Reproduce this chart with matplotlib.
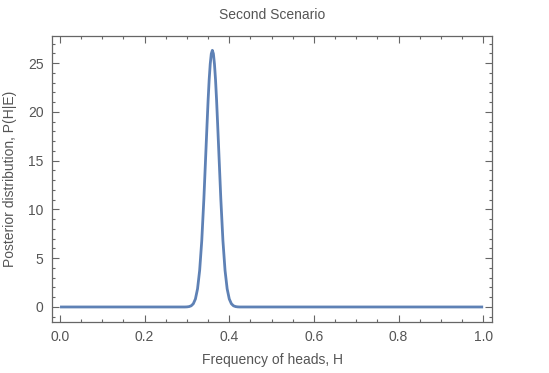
import matplotlib
matplotlib.use('Agg')
import matplotlib.pyplot as plt
from matplotlib.ticker import MultipleLocator

# posterior curve (peak ~26.3 at H ~0.36)
h_vals = [0.0, 0.295, 0.30, 0.305, 0.31, 0.315, 0.32, 0.325, 0.33, 0.335, 0.34,
          0.345, 0.3475, 0.35, 0.3525, 0.355, 0.3575, 0.36, 0.3625, 0.365, 0.3675,
          0.37, 0.3725, 0.375, 0.38, 0.385, 0.39,
          0.395, 0.40, 0.405, 0.41, 0.415, 0.42, 0.425, 1.0]
p_vals = [0.0, 0.0, 0.01, 0.04, 0.12, 0.33, 0.82, 1.86, 3.75, 6.8, 11.1,
          16.2, 18.75, 21.2, 23.3, 24.9, 25.95, 26.3, 25.95, 24.9, 23.3,
          21.2, 18.75, 16.2, 11.1, 6.8, 3.75,
          1.86, 0.82, 0.33, 0.12, 0.04, 0.01, 0.0, 0.0]

x_ticks = [0.0, 0.2, 0.4, 0.6, 0.8, 1.0]
y_ticks = [0, 5, 10, 15, 20, 25]

plt.rcParams['font.family'] = ['Liberation Sans', 'DejaVu Sans']
txt = '#555555'
frame = '#666666'

fig = plt.figure(figsize=(5.49, 3.73), dpi=100)
ax = fig.add_axes([0.0947, 0.1367, 0.8015, 0.7668])

ax.plot(h_vals, p_vals, color='#5E81B5', lw=2.0, solid_capstyle='butt',
        solid_joinstyle='round')

ax.set_xlim(-0.019, 1.021)
ax.set_ylim(-1.54, 27.77)
ax.set_xticks(x_ticks)
ax.set_xticklabels(['%.1f' % v for v in x_ticks])
ax.set_yticks(y_ticks)
ax.xaxis.set_minor_locator(MultipleLocator(0.05))
ax.yaxis.set_minor_locator(MultipleLocator(1))

ax.tick_params(which='both', direction='in', top=True, right=True,
               color=frame, labelcolor=txt, labelsize=10, width=0.8)
ax.tick_params(which='major', length=5, pad=6)
ax.tick_params(which='minor', length=2.5)
for s in ax.spines.values():
    s.set_color(frame)
    s.set_linewidth(0.9)

ax.set_title('Second Scenario', color=txt, fontsize=10, pad=12)
ax.set_xlabel('Frequency of heads, H', color=txt, fontsize=10, labelpad=6)
ax.set_ylabel('Posterior distribution, P(H|E)', color=txt, fontsize=10, labelpad=8)

fig.savefig('out.png', dpi=100)
